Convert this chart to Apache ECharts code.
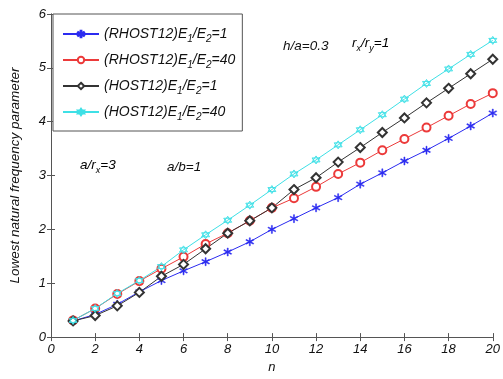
<!DOCTYPE html>
<html>
<head>
<meta charset="utf-8">
<script src="https://cdn.jsdelivr.net/npm/echarts@6/dist/echarts.min.js"></script>
<style>html,body{margin:0;padding:0;background:#fff;}#c{width:503px;height:379px;}</style>
</head>
<body>
<div id="c"></div>
<script>
var nValues = [1,2,3,4,5,6,7,8,9,10,11,12,13,14,15,16,17,18,19,20];
var rhostE1 = [0.30,0.42,0.61,0.84,1.05,1.23,1.40,1.58,1.77,2.00,2.20,2.40,2.59,2.84,3.05,3.27,3.47,3.69,3.92,4.16];
var rhostE40 = [0.31,0.53,0.80,1.04,1.27,1.49,1.73,1.93,2.16,2.40,2.58,2.79,3.03,3.24,3.47,3.68,3.89,4.11,4.33,4.53];
var hostE1 = [0.30,0.40,0.58,0.83,1.13,1.35,1.64,1.93,2.16,2.40,2.74,2.96,3.25,3.52,3.80,4.07,4.35,4.62,4.89,5.16];
var hostE40 = [0.31,0.53,0.81,1.05,1.31,1.62,1.90,2.17,2.45,2.74,3.03,3.29,3.57,3.85,4.13,4.42,4.71,4.98,5.25,5.51];
var seriesNames = ['RHOST12_1','RHOST12_40','HOST12_1','HOST12_40'];
var legendParts = {
  'RHOST12_1': ['(RHOST12)E','/E','=1'],
  'RHOST12_40': ['(RHOST12)E','/E','=40'],
  'HOST12_1': ['(HOST12)E','/E','=1'],
  'HOST12_40': ['(HOST12)E','/E','=40']
};
var xTicks = [0,2,4,6,8,10,12,14,16,18,20];
var yTicks = [0,1,2,3,4,5,6];

function pairs(vals){ return nValues.map(function(n,i){ return [n, vals[i]]; }); }

var FONT = 'Liberation Sans';
var asterisk = 'path://M-0.6,-5L0.6,-5L0.6,5L-0.6,5Z M4.03,3.02L4.63,1.98L-4.03,-3.02L-4.63,-1.98Z M4.63,-1.98L4.03,-3.02L-4.63,1.98L-4.03,3.02Z';
var hexagram = 'path://M0,-5L4.33,2.5L-4.33,2.5Z M0,5L4.33,-2.5L-4.33,-2.5Z';

var chart = echarts.init(document.getElementById('c'), null, {renderer:'canvas'});
var axisLineStyle = {color:'#555', width:1};
function rich(size){
  return {
    t:{fontFamily:FONT, fontStyle:'italic', fontSize:size, color:'#111', lineHeight:20, verticalAlign:'middle'},
    s:{fontFamily:FONT, fontStyle:'italic', fontSize:Math.round(size*0.7), color:'#111', lineHeight:11, verticalAlign:'bottom'}
  };
}
chart.setOption({
  animation:false,
  backgroundColor:'#fff',
  grid:{left:47, right:10, top:14, bottom:35, containLabel:false},
  xAxis:[{
    type:'value', min:0, max:20, interval:2, position:'bottom',
    name:'n', nameLocation:'middle', nameGap:21,
    nameTextStyle:{fontFamily:FONT, fontStyle:'italic', fontSize:13, color:'#111'},
    axisLine:{show:true, lineStyle:axisLineStyle},
    axisTick:{show:true, inside:true, length:4, lineStyle:axisLineStyle},
    axisLabel:{fontFamily:FONT, fontStyle:'italic', fontSize:13, color:'#111', margin:6,
      formatter:function(v){ return xTicks.indexOf(v)>=0 ? String(v) : ''; }},
    splitLine:{show:false}
  },{
    type:'value', min:0, max:20, interval:2, position:'top',
    axisLine:{show:true, lineStyle:axisLineStyle},
    axisTick:{show:true, inside:true, length:4, lineStyle:axisLineStyle},
    axisLabel:{show:false}, splitLine:{show:false}
  }],
  yAxis:[{
    type:'value', min:0, max:6, interval:1, position:'left',
    name:'Lowest natural frequency parameter', nameLocation:'middle', nameGap:29,
    nameTextStyle:{fontFamily:FONT, fontStyle:'italic', fontSize:13.5, color:'#111'},
    axisLine:{show:true, lineStyle:axisLineStyle},
    axisTick:{show:true, inside:true, length:4, lineStyle:axisLineStyle},
    axisLabel:{fontFamily:FONT, fontStyle:'italic', fontSize:13, color:'#111', margin:5,
      formatter:function(v){ return yTicks.indexOf(v)>=0 ? String(v) : ''; }},
    splitLine:{show:false}
  },{
    type:'value', min:0, max:6, interval:1, position:'right',
    axisLine:{show:true, lineStyle:axisLineStyle},
    axisTick:{show:true, inside:true, length:4, lineStyle:axisLineStyle},
    axisLabel:{show:false}, splitLine:{show:false}
  }],
  legend:{
    orient:'vertical', left:53, top:14,
    data:seriesNames,
    backgroundColor:'#fff', borderColor:'#555', borderWidth:1,
    padding:[13,7,9,9], itemGap:9, itemWidth:36, itemHeight:8,
    textStyle:{rich:rich(14)},
    formatter:function(name){
      var p = legendParts[name];
      return '{t|'+p[0]+'}{s|1}{t|'+p[1]+'}{s|2}{t|'+p[2]+'}';
    }
  },
  graphic:[
    {type:'text', left:283, top:39, style:{text:'h/a=0.3', font:'italic 13.5px "Liberation Sans"', fill:'#111'}},
    {type:'text', left:352, top:36, style:{text:'{t|r}{s|x}{t|/r}{s|y}{t|=1}', rich:rich(13.5)}},
    {type:'text', left:80, top:158, style:{text:'{t|a/r}{s|x}{t|=3}', rich:rich(13.5)}},
    {type:'text', left:167, top:160, style:{text:'a/b=1', font:'italic 13.5px "Liberation Sans"', fill:'#111'}}
  ],
  series:[
    {name:'RHOST12_1', type:'line', data:pairs(rhostE1), symbol:asterisk, symbolSize:8,
      lineStyle:{color:'#2b2bf0', width:1}, itemStyle:{color:'#2b2bf0', borderColor:'#2b2bf0', borderWidth:0.5}},
    {name:'RHOST12_40', type:'line', data:pairs(rhostE40), symbol:'emptyCircle', symbolSize:8,
      lineStyle:{color:'#ec3a3a', width:1}, itemStyle:{color:'#ec3a3a', borderColor:'#ec3a3a', borderWidth:0.9}},
    {name:'HOST12_1', type:'line', data:pairs(hostE1), symbol:'emptyDiamond', symbolSize:9,
      lineStyle:{color:'#333', width:1}, itemStyle:{color:'#333', borderColor:'#333', borderWidth:0.8}},
    {name:'HOST12_40', type:'line', data:pairs(hostE40), symbol:hexagram, symbolSize:8,
      lineStyle:{color:'#3ee0e6', width:1}, itemStyle:{color:'rgba(62,224,230,0.45)', borderColor:'#3ee0e6', borderWidth:0.9}}
  ]
});
</script>
</body>
</html>
